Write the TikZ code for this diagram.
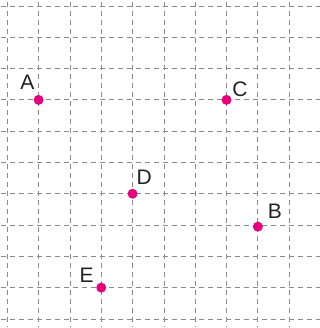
\documentclass[tikz,border=0pt]{standalone}
\usepackage{fontspec}
\setmainfont{Liberation Sans}
\definecolor{dotpink}{HTML}{E6007E}
\definecolor{gridgray}{HTML}{8A8A8A}
\definecolor{txt}{HTML}{222222}
\begin{document}
\begin{tikzpicture}[x=31.33bp, y=-31.3bp,
  gridline/.style={draw=gridgray, line width=0.8bp, dash pattern=on 5bp off 4bp},
  pt/.style={circle, fill=dotpink, inner sep=0pt, minimum size=10bp},
  lbl/.style={inner sep=0pt, text=txt, font=\fontsize{21bp}{21bp}\selectfont}]
\useasboundingbox (-0.233,-0.192) rectangle (9.98,10.29);
\foreach \i in {0,...,9} \draw[gridline] (\i,-0.12) -- (\i,10.25);
\foreach \j in {0,...,10} \draw[gridline] (-0.2,\j) -- (9.98,\j);
\node[pt] (a) at (1,3) {};
\node[pt] (c) at (7,3) {};
\node[pt] (d) at (4,6) {};
\node[pt] (b) at (8,7.05) {};
\node[pt] (e) at (3,9) {};
\node[lbl] (la) at ([shift={(-11.3bp,17.9bp)}]a.center) {A};
\node[lbl] (lc) at ([shift={(13.4bp,10.9bp)}]c.center) {C};
\node[lbl] (ld) at ([shift={(11.7bp,16.3bp)}]d.center) {D};
\node[lbl] (lb) at ([shift={(17bp,15.5bp)}]b.center) {B};
\node[lbl] (le) at ([shift={(-14.6bp,12.7bp)}]e.center) {E};
\end{tikzpicture}
\end{document}
